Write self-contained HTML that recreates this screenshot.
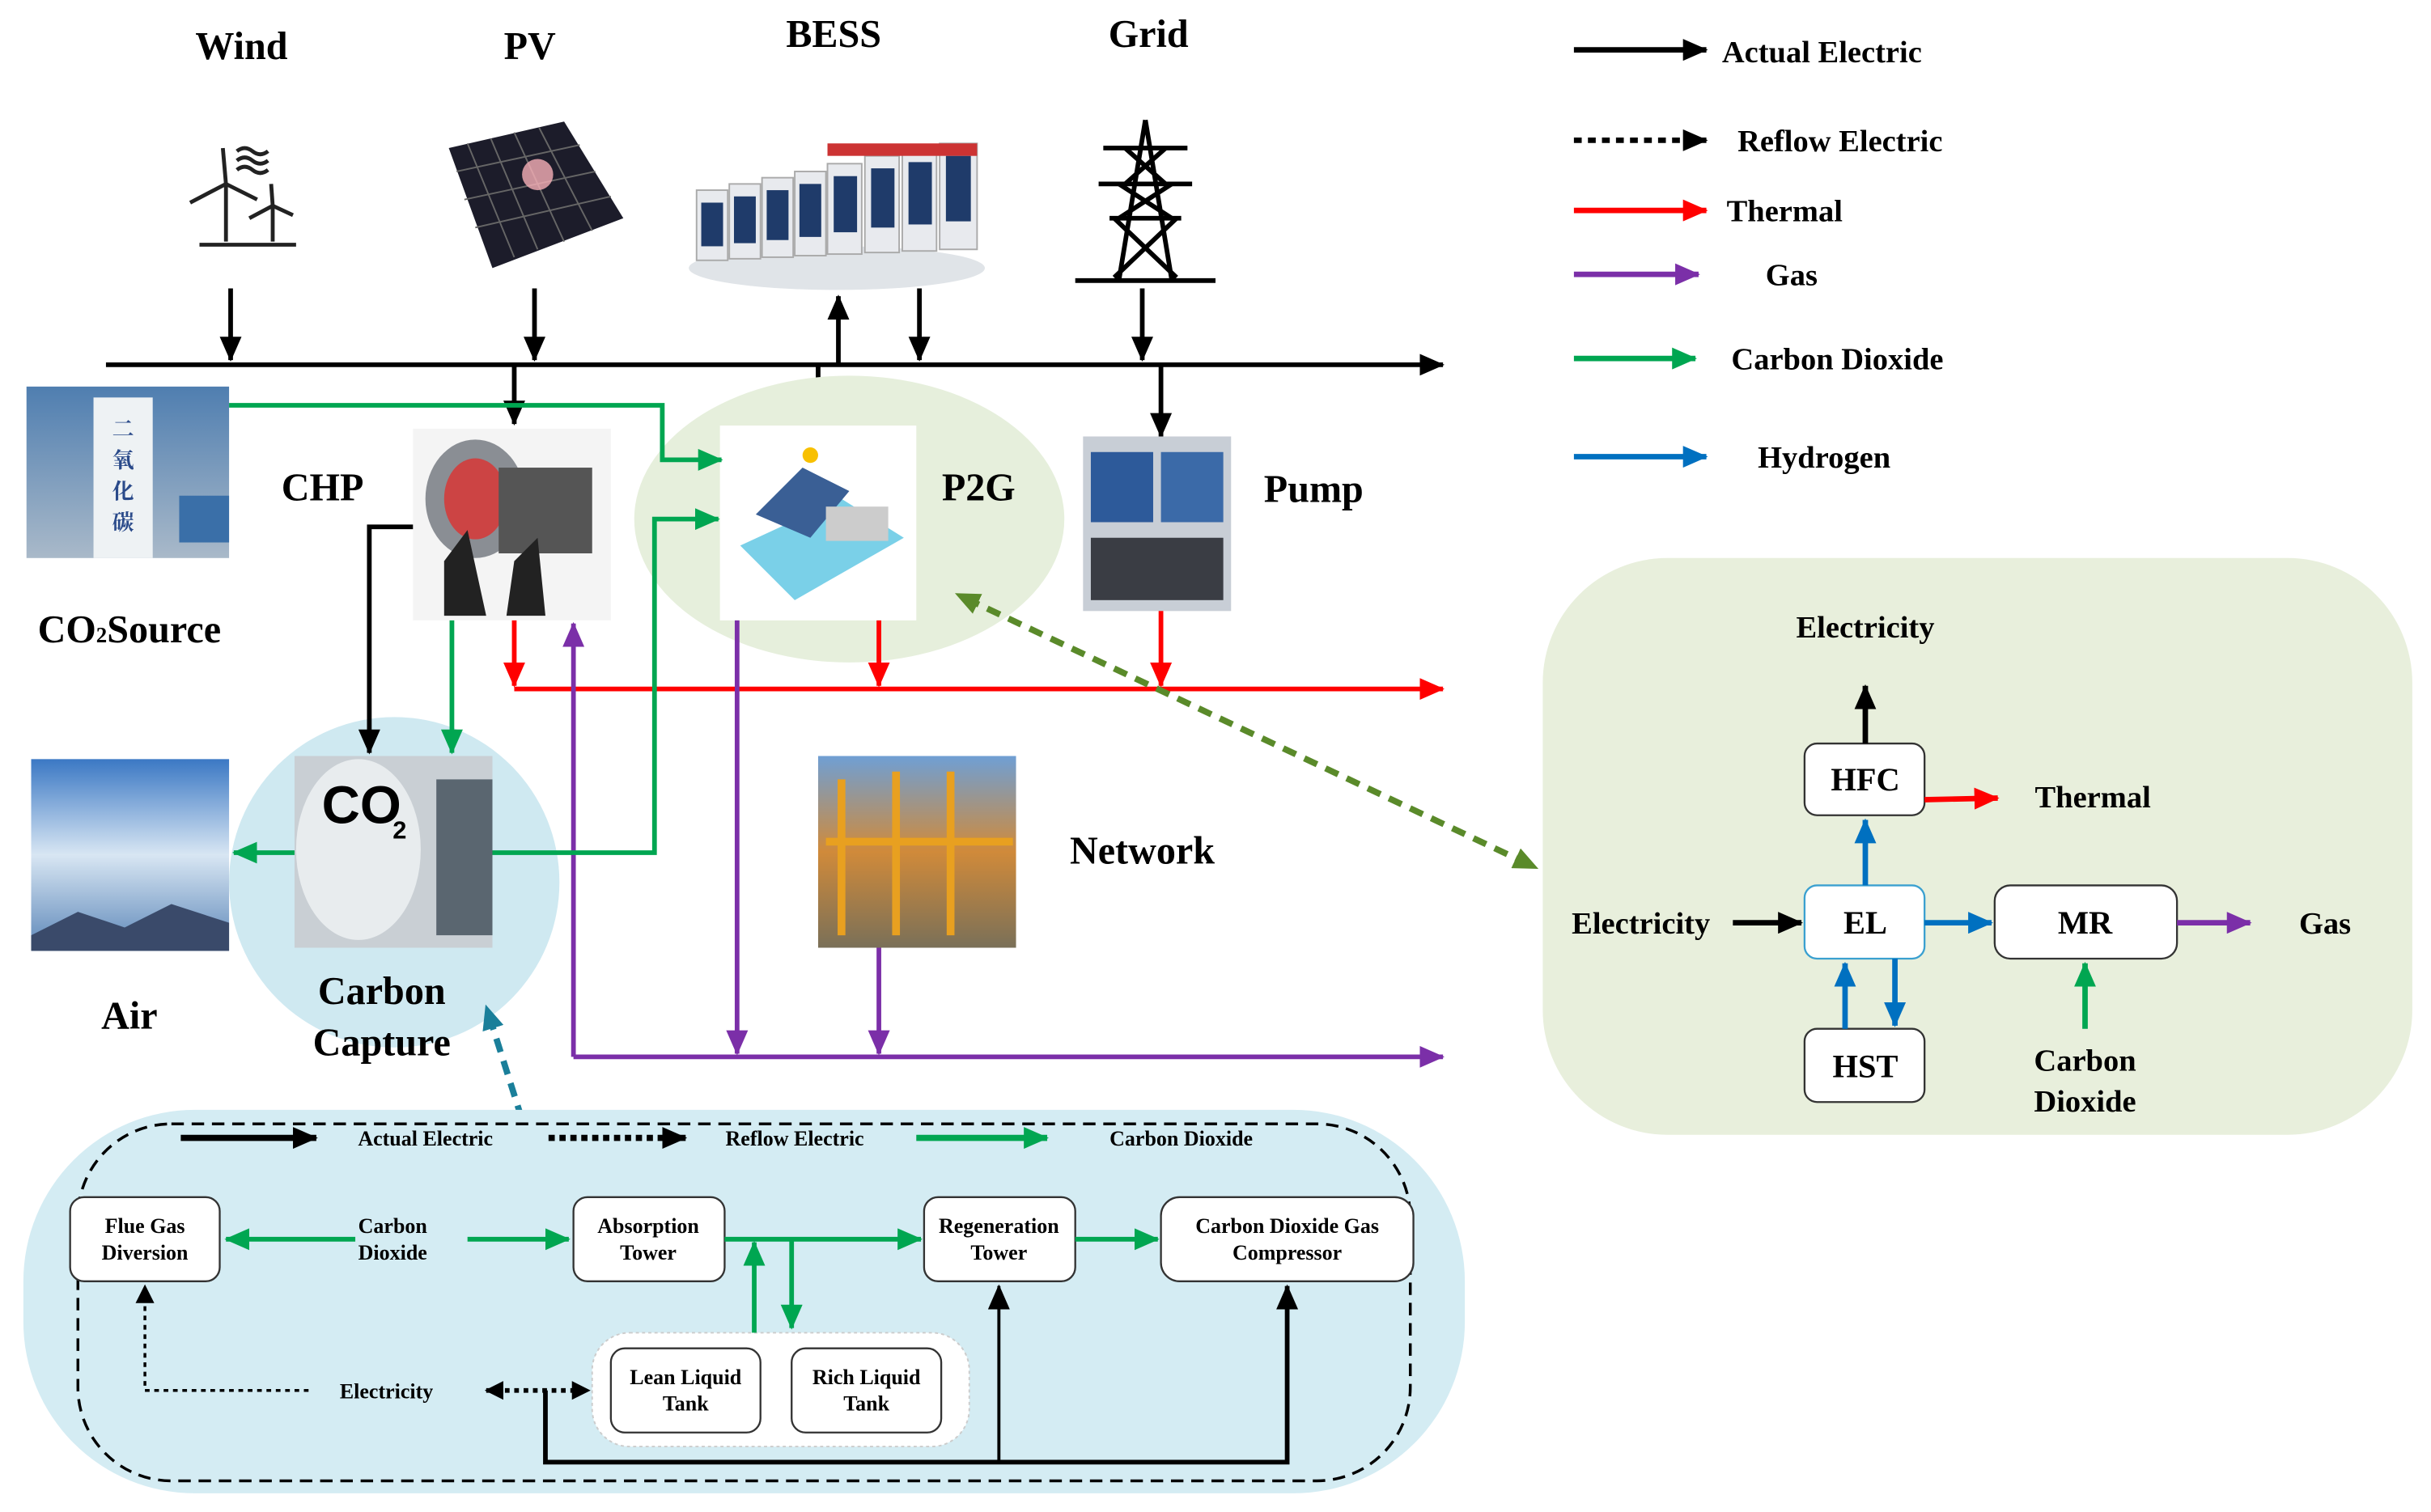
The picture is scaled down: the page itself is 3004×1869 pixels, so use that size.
<!DOCTYPE html>
<html><head><meta charset="utf-8"><style>html,body{margin:0;padding:0;background:#fff}svg{display:block}text{font-family:"Liberation Serif","Noto Serif CJK SC",serif;font-weight:bold;fill:#000}</style></head>
<body>
<svg width="3004" height="1869" viewBox="0 0 1560 970" preserveAspectRatio="none" xmlns="http://www.w3.org/2000/svg">
<defs>
<marker id="ak" markerWidth="8" markerHeight="8" refX="7" refY="4" orient="auto" markerUnits="userSpaceOnUse" viewBox="0 0 8 8"><path d="M0,0L8,4L0,8z" fill="#000"/></marker>
<marker id="akb" markerWidth="16" markerHeight="14" refX="15" refY="7" orient="auto" markerUnits="userSpaceOnUse"><path d="M0,0L16,7L0,14z" fill="#000"/></marker>
<marker id="ar" markerWidth="16" markerHeight="14" refX="15" refY="7" orient="auto" markerUnits="userSpaceOnUse"><path d="M0,0L16,7L0,14z" fill="#f00"/></marker>
<marker id="ap" markerWidth="16" markerHeight="14" refX="15" refY="7" orient="auto" markerUnits="userSpaceOnUse"><path d="M0,0L16,7L0,14z" fill="#7b2fa8"/></marker>
<marker id="ag" markerWidth="16" markerHeight="14" refX="15" refY="7" orient="auto" markerUnits="userSpaceOnUse"><path d="M0,0L16,7L0,14z" fill="#00a651"/></marker>
<marker id="ab" markerWidth="16" markerHeight="14" refX="15" refY="7" orient="auto" markerUnits="userSpaceOnUse"><path d="M0,0L16,7L0,14z" fill="#0070c0"/></marker>
<marker id="agd" markerWidth="16" markerHeight="14" refX="8" refY="7" orient="auto-start-reverse" markerUnits="userSpaceOnUse"><path d="M0,0L16,7L0,14z" fill="#5a8a2a"/></marker>
<marker id="atd" markerWidth="16" markerHeight="14" refX="8" refY="7" orient="auto-start-reverse" markerUnits="userSpaceOnUse"><path d="M0,0L16,7L0,14z" fill="#1a7f9a"/></marker>
<marker id="akd" markerWidth="12" markerHeight="12" refX="11" refY="6" orient="auto-start-reverse" markerUnits="userSpaceOnUse"><path d="M0,0L12,6L0,12z" fill="#000"/></marker>
<linearGradient id="sky" x1="0" y1="0" x2="0" y2="1"><stop offset="0" stop-color="#3b78c4"/><stop offset=".5" stop-color="#d8e6f3"/><stop offset="1" stop-color="#5b86b8"/></linearGradient>
<linearGradient id="co2s" x1="0" y1="0" x2="0" y2="1"><stop offset="0" stop-color="#4f7eb0"/><stop offset="1" stop-color="#a9b9c9"/></linearGradient>
<linearGradient id="net" x1="0" y1="0" x2="0" y2="1"><stop offset="0" stop-color="#6f9fd4"/><stop offset=".5" stop-color="#d08a3a"/><stop offset="1" stop-color="#7a7058"/></linearGradient>
</defs>

<!-- titles -->
<text x="155" y="38" font-size="25" text-anchor="middle">Wind</text>
<text x="340" y="38" font-size="25" text-anchor="middle">PV</text>
<text x="535" y="30" font-size="25" text-anchor="middle">BESS</text>
<text x="737" y="30" font-size="25" text-anchor="middle">Grid</text>

<!-- wind icon -->
<g stroke="#222" stroke-width="2.5" fill="none">
<line x1="145" y1="118" x2="145" y2="155"/><line x1="145" y1="118" x2="122" y2="130"/><line x1="145" y1="118" x2="143" y2="95"/><line x1="145" y1="118" x2="165" y2="128"/>
<line x1="175" y1="132" x2="175" y2="155"/><line x1="175" y1="132" x2="160" y2="140"/><line x1="175" y1="132" x2="174" y2="118"/><line x1="175" y1="132" x2="188" y2="138"/>
<line x1="128" y1="157" x2="190" y2="157"/>
<path d="M152,97q5,-4 10,0t10,0M152,103q5,-4 10,0t10,0M152,109q5,-4 10,0t10,0"/>
</g>
<!-- PV -->
<polygon points="288,95 362,78 400,140 316,172" fill="#1c1c2a"/>
<g stroke="#666" stroke-width="1"><line x1="300" y1="92" x2="330" y2="165"/><line x1="315" y1="89" x2="345" y2="160"/><line x1="330" y1="85" x2="362" y2="155"/><line x1="346" y1="82" x2="380" y2="148"/><line x1="293" y1="110" x2="372" y2="93"/><line x1="298" y1="128" x2="382" y2="110"/><line x1="305" y1="146" x2="392" y2="126"/></g>
<circle cx="345" cy="112" r="10" fill="#f7b0b8" opacity=".8"/>
<!-- BESS -->
<ellipse cx="537" cy="172" rx="95" ry="14" fill="#e0e4e8"/>
<g fill="#e8eaee" stroke="#aaa" stroke-width="1">
<rect x="447" y="122" width="20" height="45"/><rect x="468" y="118" width="20" height="48"/><rect x="489" y="114" width="20" height="51"/><rect x="510" y="110" width="20" height="54"/><rect x="531" y="105" width="22" height="58"/><rect x="555" y="100" width="22" height="62"/><rect x="579" y="96" width="22" height="65"/><rect x="603" y="92" width="24" height="68"/>
</g>
<g fill="#1f3b6a"><rect x="450" y="130" width="14" height="28"/><rect x="471" y="126" width="14" height="30"/><rect x="492" y="122" width="14" height="32"/><rect x="513" y="118" width="14" height="34"/><rect x="535" y="113" width="15" height="36"/><rect x="559" y="108" width="15" height="38"/><rect x="583" y="104" width="15" height="40"/><rect x="607" y="100" width="16" height="42"/></g>
<rect x="531" y="92" width="96" height="8" fill="#c33"/>
<!-- Grid tower -->
<g stroke="#000" stroke-width="3" fill="none">
<path d="M735,77L718,180M735,77L752,180M690,180L780,180"/>
<path d="M708,95H762M705,118H765M712,140H758"/>
<path d="M722,95L748,118M748,95L722,118M718,118L752,140M752,118L718,140M715,140L755,178M755,140L715,178"/>
</g>

<!-- arrows into bus -->
<g stroke="#000" stroke-width="3" fill="none">
<line x1="148" y1="185" x2="148" y2="231" marker-end="url(#akb)"/>
<line x1="343" y1="185" x2="343" y2="231" marker-end="url(#akb)"/>
<line x1="538" y1="234" x2="538" y2="190" marker-end="url(#akb)"/>
<line x1="590" y1="185" x2="590" y2="231" marker-end="url(#akb)"/>
<line x1="733" y1="185" x2="733" y2="231" marker-end="url(#akb)"/>
<line x1="68" y1="234" x2="926" y2="234" marker-end="url(#akb)"/>
<line x1="330" y1="234" x2="330" y2="272" marker-end="url(#akb)"/>
<line x1="525" y1="234" x2="525" y2="272" marker-end="url(#akb)"/>
<line x1="745" y1="234" x2="745" y2="280" marker-end="url(#akb)"/>
</g>

<!-- P2G ellipse -->
<ellipse cx="545" cy="333" rx="138" ry="92" fill="#e6efdc"/>
<!-- Carbon capture circle -->
<circle cx="253" cy="566" r="106" fill="#cfe9f1"/>

<!-- images -->
<rect x="17" y="248" width="130" height="110" fill="url(#co2s)"/>
<rect x="60" y="255" width="38" height="103" fill="#eef2f4"/>
<text x="79" y="280" font-size="14" text-anchor="middle" fill="#2a4a8a" style="fill:#2a4a8a">二</text>
<text x="79" y="300" font-size="14" text-anchor="middle" style="fill:#2a4a8a">氧</text>
<text x="79" y="320" font-size="14" text-anchor="middle" style="fill:#2a4a8a">化</text>
<text x="79" y="340" font-size="14" text-anchor="middle" style="fill:#2a4a8a">碳</text>
<rect x="115" y="318" width="32" height="30" fill="#3a6fa8"/>

<rect x="265" y="275" width="127" height="123" fill="#f4f4f4"/>
<ellipse cx="305" cy="320" rx="32" ry="38" fill="#8a8e94"/><ellipse cx="305" cy="320" rx="20" ry="26" fill="#c44"/>
<rect x="320" y="300" width="60" height="55" fill="#555"/>
<polygon points="285,360 300,340 312,395 285,395" fill="#222"/><polygon points="330,360 345,345 350,395 325,395" fill="#222"/>

<rect x="462" y="273" width="126" height="125" fill="#fff"/>
<polygon points="475,350 540,320 580,345 510,385" fill="#7ad0e8"/>
<polygon points="485,330 515,300 545,315 520,345" fill="#3a5f95"/>
<rect x="530" y="325" width="40" height="22" fill="#ccc"/>
<circle cx="520" cy="292" r="5" fill="#f8c000"/>

<rect x="695" y="280" width="95" height="112" fill="#c8ced6"/>
<rect x="700" y="290" width="40" height="45" fill="#2d5a9a"/><rect x="745" y="290" width="40" height="45" fill="#3b6aa8"/>
<rect x="700" y="345" width="85" height="40" fill="#3a3d44"/>

<rect x="20" y="487" width="127" height="123" fill="url(#sky)"/>
<polygon points="20,600 50,585 80,595 110,580 147,592 147,610 20,610" fill="#3a4a6a"/>

<rect x="189" y="485" width="127" height="123" fill="#c9cfd4"/>
<ellipse cx="230" cy="545" rx="40" ry="58" fill="#e8ecee"/>
<text x="232" y="528" font-size="34" text-anchor="middle" style="font-family:'Liberation Sans',sans-serif">CO</text><text x="252" y="538" font-size="16" style="font-family:'Liberation Sans',sans-serif">2</text>
<rect x="280" y="500" width="36" height="100" fill="#5a6670"/>

<rect x="525" y="485" width="127" height="123" fill="url(#net)"/>
<g stroke="#e8a020" stroke-width="5"><line x1="540" y1="500" x2="540" y2="600"/><line x1="575" y1="495" x2="575" y2="600"/><line x1="610" y1="495" x2="610" y2="600"/><line x1="530" y1="540" x2="650" y2="540"/></g>

<!-- labels -->
<text x="83" y="412" font-size="25" text-anchor="middle">CO<tspan font-size="14">2</tspan>Source</text>
<text x="207" y="321" font-size="25" text-anchor="middle">CHP</text>
<text x="628" y="321" font-size="25" text-anchor="middle">P2G</text>
<text x="843" y="322" font-size="25" text-anchor="middle">Pump</text>
<text x="83" y="660" font-size="25" text-anchor="middle">Air</text>
<text x="245" y="644" font-size="25" text-anchor="middle">Carbon</text>
<text x="245" y="677" font-size="25" text-anchor="middle">Capture</text>
<text x="733" y="554" font-size="25" text-anchor="middle">Network</text>

<!-- flows -->
<g fill="none" stroke-width="3">
<polyline points="147,260 425,260 425,295 463,295" stroke="#00a651" marker-end="url(#ag)"/>
<polyline points="265,338 237,338 237,483" stroke="#000" marker-end="url(#akb)"/>
<line x1="290" y1="398" x2="290" y2="483" stroke="#00a651" marker-end="url(#ag)"/>
<line x1="330" y1="398" x2="330" y2="440" stroke="#f00" marker-end="url(#ar)"/>
<line x1="330" y1="442" x2="926" y2="442" stroke="#f00" marker-end="url(#ar)"/>
<line x1="564" y1="398" x2="564" y2="440" stroke="#f00" marker-end="url(#ar)"/>
<line x1="745" y1="392" x2="745" y2="440" stroke="#f00" marker-end="url(#ar)"/>
<line x1="368" y1="678" x2="368" y2="400" stroke="#7b2fa8" marker-end="url(#ap)"/>
<line x1="473" y1="398" x2="473" y2="676" stroke="#7b2fa8" marker-end="url(#ap)"/>
<line x1="564" y1="608" x2="564" y2="676" stroke="#7b2fa8" marker-end="url(#ap)"/>
<line x1="368" y1="678" x2="926" y2="678" stroke="#7b2fa8" marker-end="url(#ap)"/>
<polyline points="316,547 420,547 420,333 461,333" stroke="#00a651" marker-end="url(#ag)"/>
<line x1="189" y1="547" x2="150" y2="547" stroke="#00a651" marker-end="url(#ag)"/>
<line x1="620" y1="384" x2="980" y2="554" stroke="#5a8a2a" stroke-width="4" stroke-dasharray="9,6" marker-start="url(#agd)" marker-end="url(#agd)"/>
<line x1="314" y1="652" x2="340" y2="734" stroke="#1a7f9a" stroke-width="4" stroke-dasharray="9,6" marker-start="url(#atd)" marker-end="url(#atd)"/>
</g>

<!-- legend -->
<g fill="none" stroke-width="3.5">
<line x1="1010" y1="32" x2="1095" y2="32" stroke="#000" marker-end="url(#akb)"/>
<line x1="1010" y1="90" x2="1095" y2="90" stroke="#000" stroke-dasharray="5,4" marker-end="url(#akb)"/>
<line x1="1010" y1="135" x2="1095" y2="135" stroke="#f00" marker-end="url(#ar)"/>
<line x1="1010" y1="176" x2="1090" y2="176" stroke="#7b2fa8" marker-end="url(#ap)"/>
<line x1="1010" y1="230" x2="1088" y2="230" stroke="#00a651" marker-end="url(#ag)"/>
<line x1="1010" y1="293" x2="1095" y2="293" stroke="#0070c0" marker-end="url(#ab)"/>
</g>
<text x="1105" y="40" font-size="20">Actual Electric</text>
<text x="1115" y="97" font-size="20">Reflow Electric</text>
<text x="1108" y="142" font-size="20">Thermal</text>
<text x="1133" y="183" font-size="20">Gas</text>
<text x="1111" y="237" font-size="20">Carbon Dioxide</text>
<text x="1128" y="300" font-size="20">Hydrogen</text>

<!-- right panel -->
<rect x="990" y="358" width="558" height="370" rx="80" fill="#e8efdc"/>
<g fill="#fff" stroke="#333" stroke-width="1.2">
<rect x="1158" y="477" width="77" height="46" rx="8"/>
<rect x="1158" y="568" width="77" height="47" rx="8" stroke="#3aa0d0"/>
<rect x="1280" y="568" width="117" height="47" rx="10"/>
<rect x="1158" y="660" width="77" height="47" rx="8"/>
</g>
<text x="1197" y="507" font-size="21" text-anchor="middle">HFC</text>
<text x="1197" y="599" font-size="21" text-anchor="middle">EL</text>
<text x="1338" y="599" font-size="21" text-anchor="middle">MR</text>
<text x="1197" y="691" font-size="21" text-anchor="middle">HST</text>
<text x="1197" y="409" font-size="20" text-anchor="middle">Electricity</text>
<text x="1343" y="518" font-size="20" text-anchor="middle">Thermal</text>
<text x="1053" y="599" font-size="20" text-anchor="middle">Electricity</text>
<text x="1492" y="599" font-size="20" text-anchor="middle">Gas</text>
<text x="1338" y="687" font-size="20" text-anchor="middle">Carbon</text>
<text x="1338" y="713" font-size="20" text-anchor="middle">Dioxide</text>
<g fill="none" stroke-width="3.5">
<line x1="1197" y1="477" x2="1197" y2="440" stroke="#000" marker-end="url(#akb)"/>
<line x1="1235" y1="513" x2="1282" y2="512" stroke="#f00" marker-end="url(#ar)"/>
<line x1="1197" y1="568" x2="1197" y2="526" stroke="#0070c0" marker-end="url(#ab)"/>
<line x1="1112" y1="592" x2="1156" y2="592" stroke="#000" marker-end="url(#akb)"/>
<line x1="1235" y1="592" x2="1278" y2="592" stroke="#0070c0" marker-end="url(#ab)"/>
<line x1="1397" y1="592" x2="1444" y2="592" stroke="#7b2fa8" marker-end="url(#ap)"/>
<line x1="1184" y1="660" x2="1184" y2="618" stroke="#0070c0" marker-end="url(#ab)"/>
<line x1="1216" y1="615" x2="1216" y2="658" stroke="#0070c0" marker-end="url(#ab)"/>
<line x1="1338" y1="660" x2="1338" y2="618" stroke="#00a651" marker-end="url(#ag)"/>
</g>

<!-- bottom panel -->
<rect x="15" y="712" width="925" height="246" rx="110" fill="#d4ecf3"/>
<rect x="50" y="721" width="855" height="229" rx="60" fill="none" stroke="#000" stroke-width="1.8" stroke-dasharray="8,5"/>
<g fill="none" stroke-width="4">
<line x1="116" y1="730" x2="203" y2="730" stroke="#000" marker-end="url(#akb)"/>
<line x1="352" y1="730" x2="440" y2="730" stroke="#000" stroke-dasharray="4,3" marker-end="url(#akb)"/>
<line x1="588" y1="730" x2="672" y2="730" stroke="#00a651" marker-end="url(#ag)"/>
</g>
<g font-size="13.5"><text x="273" y="735" text-anchor="middle">Actual Electric</text><text x="510" y="735" text-anchor="middle">Reflow Electric</text><text x="758" y="735" text-anchor="middle">Carbon Dioxide</text></g>
<rect x="380" y="855" width="242" height="73" rx="24" fill="#fff" stroke="#ccc" stroke-width="1" stroke-dasharray="2,2"/>
<g fill="#fff" stroke="#333" stroke-width="1.2">
<rect x="45" y="768" width="96" height="54" rx="9"/>
<rect x="368" y="768" width="97" height="54" rx="9"/>
<rect x="593" y="768" width="97" height="54" rx="9"/>
<rect x="745" y="768" width="162" height="54" rx="12"/>
<rect x="392" y="865" width="96" height="54" rx="9"/>
<rect x="508" y="865" width="96" height="54" rx="9"/>
</g>
<g font-size="13.5" text-anchor="middle">
<text x="93" y="791">Flue Gas</text><text x="93" y="808">Diversion</text>
<text x="252" y="791">Carbon</text><text x="252" y="808">Dioxide</text>
<text x="416" y="791">Absorption</text><text x="416" y="808">Tower</text>
<text x="641" y="791">Regeneration</text><text x="641" y="808">Tower</text>
<text x="826" y="791">Carbon Dioxide Gas</text><text x="826" y="808">Compressor</text>
<text x="440" y="888">Lean Liquid</text><text x="440" y="905">Tank</text>
<text x="556" y="888">Rich Liquid</text><text x="556" y="905">Tank</text>
<text x="248" y="897">Electricity</text>
</g>
<g fill="none" stroke-width="3">
<line x1="228" y1="795" x2="145" y2="795" stroke="#00a651" marker-end="url(#ag)"/>
<line x1="300" y1="795" x2="365" y2="795" stroke="#00a651" marker-end="url(#ag)"/>
<line x1="465" y1="795" x2="591" y2="795" stroke="#00a651" marker-end="url(#ag)"/>
<line x1="690" y1="795" x2="743" y2="795" stroke="#00a651" marker-end="url(#ag)"/>
<line x1="484" y1="855" x2="484" y2="797" stroke="#00a651" marker-end="url(#ag)"/>
<line x1="508" y1="795" x2="508" y2="852" stroke="#00a651" marker-end="url(#ag)"/>
<polyline points="350,892 350,938 826,938 826,825" stroke="#000" marker-end="url(#akb)"/>
<line x1="641" y1="938" x2="641" y2="825" stroke="#000" stroke-width="2" marker-end="url(#akb)"/>
<line x1="312" y1="892" x2="378" y2="892" stroke="#000" stroke-dasharray="3,3" marker-start="url(#akd)" marker-end="url(#akd)"/>
<polyline points="198,892 93,892 93,825" stroke="#000" stroke-width="1.8" stroke-dasharray="3,3" marker-end="url(#akd)"/>
</g>
</svg>
</body></html>
